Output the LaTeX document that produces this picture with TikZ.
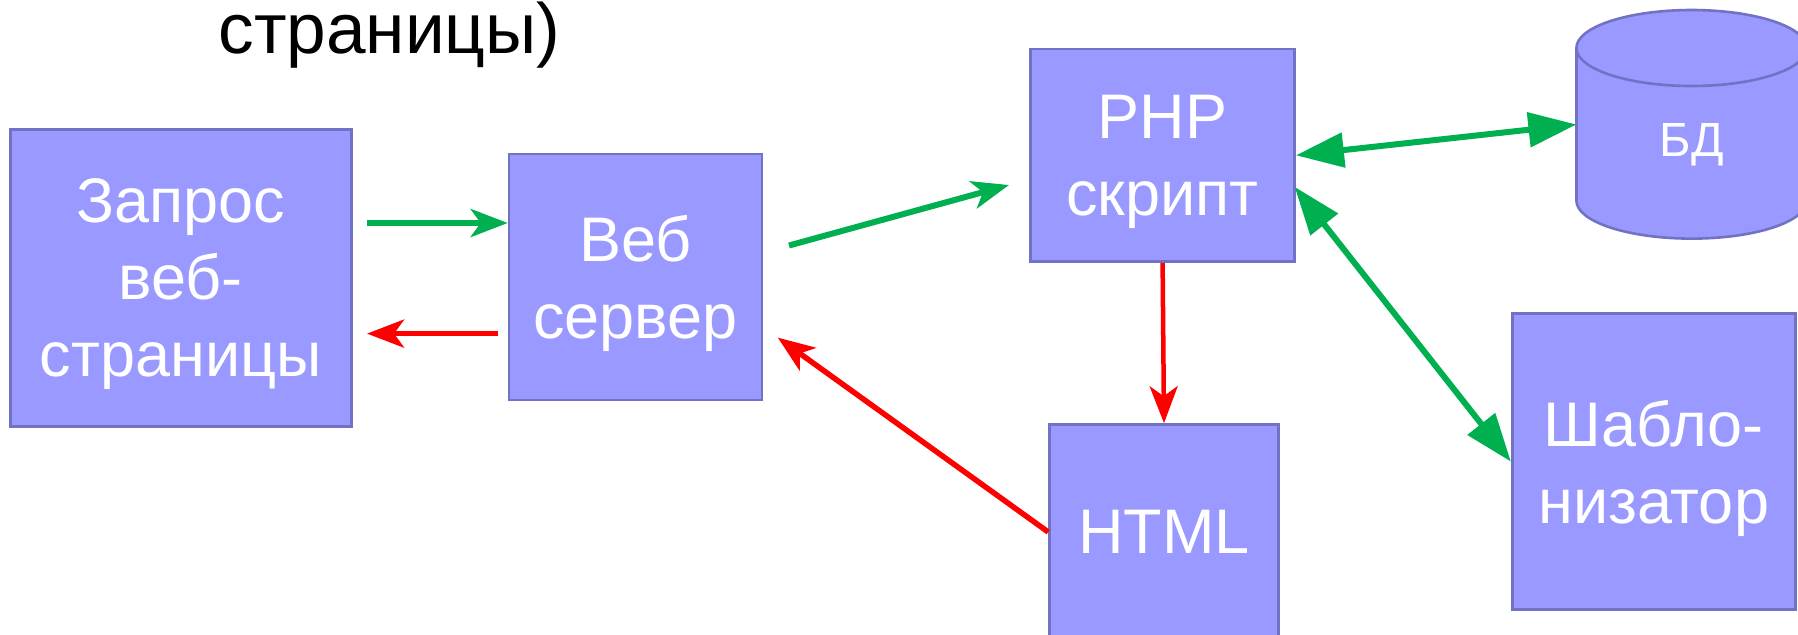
\documentclass[tikz,border=0pt]{standalone}
\usepackage{fontspec}
\setmainfont{Liberation Sans}
\usetikzlibrary{arrows.meta}

\definecolor{boxfill}{HTML}{9999FF}
\definecolor{boxline}{HTML}{7272C4}
\definecolor{okgreen}{HTML}{00B050}
\definecolor{errred}{HTML}{FF0000}

\begin{document}
\begin{tikzpicture}[x=0.5pt,y=-0.5pt,
        box/.style={draw=boxline,fill=boxfill,line width=1.3pt,text=white,align=center,
            inner sep=0pt,text depth=0pt,font=\fontsize{31.5}{38.5}\selectfont},
        okline/.style={draw=okgreen,line width=3pt,-{Stealth[length=18.5pt,width=14pt,inset=5pt]}},
        errline/.style={draw=errred,line width=2.75pt,-{Stealth[length=18.5pt,width=14pt,inset=5pt]}},
        dbline/.style={draw=okgreen,line width=3pt,
            {Triangle[length=24pt,width=17pt]}-{Triangle[length=24pt,width=17pt]}}]
    \useasboundingbox (0,0) rectangle (1798,634);

    \node[anchor=base west,inner sep=0pt,font=\fontsize{35.6}{42}\selectfont] (title) at (218,53) {страницы)};

    % boxes
    \node[box,minimum width=170.5pt,minimum height=148.5pt] (zapros) at (180.8,278) {Запрос\\веб-\\страницы};
    \node[box,minimum width=126.5pt,minimum height=123pt] (server) at (635.5,277) {Веб\\сервер};
    \node[box,minimum width=132pt,minimum height=106.3pt] (php) at (1162.6,155.3) {PHP\\скрипт};
    \node[box,minimum width=114.5pt,minimum height=107.5pt] (html) at (1164,532) {HTML};
    \node[box,minimum width=141.5pt,minimum height=148pt] (shablon) at (1653.7,461.6) {Шабло-\\низатор};

    % database
    \filldraw[fill=boxfill,draw=boxline,line width=1.3pt] (1691.6,200.6) ellipse [x radius=115.2,y radius=38];
    \fill[boxfill] (1576.4,48) rectangle (1806.8,200.6);
    \draw[boxline,line width=1.3pt] (1576.4,48) -- (1576.4,200.6) (1806.8,48) -- (1806.8,200.6);
    \filldraw[fill=boxfill,draw=boxline,line width=1.3pt] (1691.6,48) ellipse [x radius=115.2,y radius=38];
    \node[text=white,font=\fontsize{24}{28}\selectfont] (bd) at (1691.6,145) {БД};
    \coordinate (bdleft) at (1576.4,124.5);

    % connectors
    \coordinate (reqstart) at (367,223);
    \coordinate (respstart) at (498,333.6);
    \coordinate (respend) at (367,333.6);
    \coordinate (fwdstart) at (789,245.5);
    \coordinate (fwdend) at (1009,185);
    \coordinate (backend) at (777.8,337.6);
    \coordinate (phptpl) at (1294.6,186.8);

    \draw[okline] (reqstart) -- (server.west |- reqstart);
    \draw[errline] (respstart) -- (respend);
    \draw[okline] (fwdstart) -- (fwdend);
    \draw[errline,line width=2.25pt] (php.south) -- (html.north);
    \draw[errline] (html.west) -- (backend);
    \draw[dbline] (php.east) -- (bdleft);
    \draw[dbline] (phptpl) -- (shablon.west);
\end{tikzpicture}
\end{document}
